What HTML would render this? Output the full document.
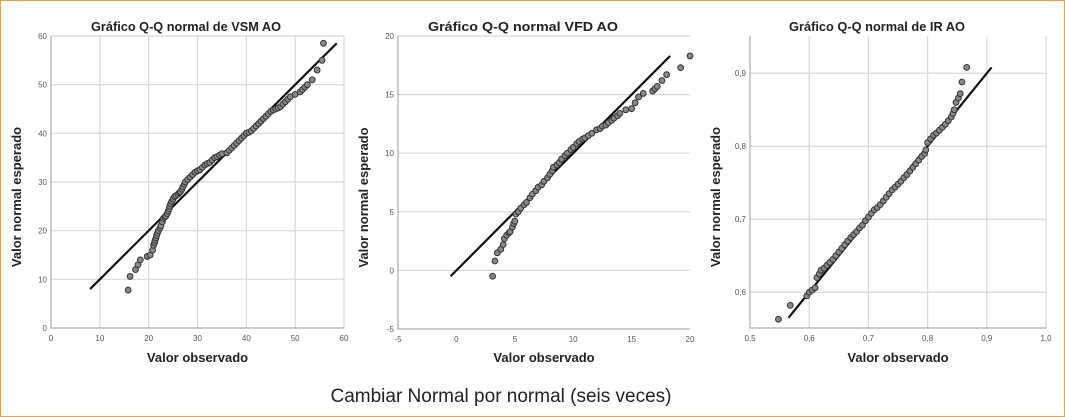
<!DOCTYPE html>
<html><head><meta charset="utf-8"><style>
html,body{margin:0;padding:0;background:#fff}
#wrap{position:relative;width:1065px;height:417px;box-sizing:border-box;border:1.5px solid #f0a030;background:#fff;overflow:hidden}
svg{position:absolute;left:0;top:0}
#cap{position:absolute;left:0;width:1000px;top:385px;text-align:center;font-family:"Liberation Sans Narrow","Liberation Sans",sans-serif;font-size:19px;color:#222}
</style></head><body>
<div id="wrap">
<svg id="svg" width="1065" height="417"></svg>
<div id="cap">Cambiar Normal por normal (seis veces)</div>
</div>
<script>
const obs1=[15.8,16.2,17.3,17.8,18.3,19.7,20.3,20.8,21,21.2,21.3,21.5,21.6,21.8,22,22.3,22.5,22.8,23,23.3,23.5,23.8,24,24.2,24.3,24.5,24.7,25,25.3,25.6,26,26.3,26.5,26.8,27,27.3,27.5,28,28.5,29,29.5,30,30.5,31,31.5,32,32.5,33,33.5,34,34.5,35,36,36.5,37,37.5,38,38.5,39,39.5,40,40.5,41,41.5,42,42.5,43,43.5,44,44.5,45,45.5,46,46.5,47,47.5,48,48.5,49,50,51,51.5,52,52.5,53.5,54.5,55.5,55.8];
const exp1=[7.8,10.6,12,13,14,14.7,15,16,17,17.5,18,18.5,19,19.5,20,20.5,21,21.8,22.5,22.8,23,23.5,24,24.5,25,25.5,26,26.5,27,27.2,27.5,27.8,28,28.5,29,29.5,30,30.5,31,31.5,32,32.3,32.5,33,33.5,33.8,34,34.5,35,35.2,35.5,35.8,36,36.5,37,37.5,38,38.5,39,39.5,40,40.2,40.5,41,41.5,42,42.5,43,43.5,44,44.5,44.8,45,45.2,45.5,46,46.5,47,47.5,48,48.5,49,49.5,50,51,53,55,58.5];
const line1=[8,58.5];
const xt1=[0,10,20,30,40,50,60], yt1=[0,10,20,30,40,50,60];
const obs2=[3.1,3.3,3.5,3.8,4,4.1,4.3,4.5,4.6,4.8,4.9,5,5.1,5.3,5.5,5.8,6,6.3,6.5,6.8,7,7.3,7.5,7.8,8,8.2,8.3,8.6,8.8,9,9.3,9.5,9.8,10,10.3,10.5,10.8,11,11.3,11.6,12,12.3,12.5,12.8,13,13.3,13.5,13.8,14,14.5,15,15.3,15.6,16,16.8,17,17.2,17.6,18,19.2,20];
const exp2=[-0.5,0.8,1.5,1.8,2.2,2.7,3,3.2,3.3,3.7,4,4.2,4.8,5,5.3,5.6,5.8,6.2,6.5,6.8,7.1,7.3,7.6,7.9,8.2,8.5,8.8,9,9.2,9.5,9.8,10,10.3,10.5,10.8,11,11.2,11.3,11.5,11.7,12,12.1,12.3,12.4,12.6,12.8,13,13.2,13.4,13.7,13.8,14.3,14.8,15.1,15.3,15.5,15.7,16.2,16.7,17.3,18.3];
const line2=[-0.5,18.3];
const xt2=[-5,0,5,10,15,20], yt2=[-5,0,5,10,15,20];
const obs3=[0.548,0.568,0.596,0.6,0.605,0.61,0.613,0.617,0.62,0.625,0.63,0.635,0.64,0.645,0.65,0.655,0.66,0.665,0.67,0.675,0.68,0.685,0.69,0.695,0.7,0.705,0.71,0.715,0.72,0.725,0.73,0.735,0.74,0.745,0.75,0.755,0.76,0.765,0.77,0.775,0.78,0.785,0.79,0.795,0.797,0.8,0.805,0.81,0.815,0.82,0.825,0.83,0.835,0.84,0.843,0.845,0.848,0.852,0.855,0.858,0.866];
const exp3=[0.563,0.582,0.595,0.6,0.603,0.606,0.62,0.625,0.63,0.633,0.637,0.641,0.645,0.65,0.655,0.66,0.665,0.67,0.675,0.679,0.683,0.688,0.692,0.698,0.703,0.708,0.713,0.716,0.72,0.725,0.73,0.735,0.74,0.744,0.748,0.752,0.757,0.761,0.766,0.771,0.776,0.781,0.786,0.79,0.795,0.805,0.81,0.815,0.818,0.822,0.826,0.83,0.835,0.84,0.845,0.85,0.86,0.866,0.872,0.888,0.908];
const line3=[0.565,0.908];
const xt3=[0.5,0.6,0.7,0.8,0.9,1.0], yt3=[0.6,0.7,0.8,0.9];
const NS='http://www.w3.org/2000/svg', svg=document.getElementById('svg');
function mk(t,a,p){const e=document.createElementNS(NS,t);for(const k in a)e.setAttribute(k,a[k]);(p||svg).appendChild(e);return e;}
function chart(o){
 const g=mk('g',{});
 
 
 const X=v=>o.x0+(v-o.xmin)/(o.xmax-o.xmin)*(o.x1-o.x0);
 const Y=v=>o.y0-(v-o.ymin)/(o.ymax-o.ymin)*(o.y0-o.y1);
 const fmt=v=>o.dec?v.toFixed(1).replace('.',','):String(v);
 if(o.vgrid) o.xt.forEach(v=>{if(v!==o.xmin){const l=mk('line',{x1:X(v),x2:X(v),y1:o.y1,y2:o.y0,stroke:'#d8d8d8','stroke-width':1.2},g);}});
 o.yt.forEach(v=>{if(Y(v)<o.y0-1){const l=mk('line',{x1:o.x0,x2:o.x1,y1:Y(v),y2:Y(v),stroke:'#d8d8d8','stroke-width':1.2},g);}});
 const ax=mk('path',{d:`M${o.x0},${o.y1}V${o.y0}H${o.x1}`,fill:'none',stroke:'#999','stroke-width':1},g);
 
 o.xt.forEach(v=>{const t=mk('text',{x:X(v),y:o.y0+13,'text-anchor':'middle','font-size':8,fill:'#555','font-family':'Liberation Sans,sans-serif'},g);t.textContent=fmt(v);});
 o.yt.forEach(v=>{const t=mk('text',{x:o.x0-4,y:Y(v)+3,'text-anchor':'end','font-size':8,fill:'#555','font-family':'Liberation Sans,sans-serif'},g);t.textContent=fmt(v);});
 const ln=mk('line',{x1:X(o.line[0]),y1:Y(o.line[0]),x2:X(o.line[1]),y2:Y(o.line[1]),stroke:'#111','stroke-width':2.2},g);
 
 o.xs.forEach((v,i)=>{const c=mk('circle',{cx:X(v),cy:Y(o.ys[i]),r:2.9,fill:'#888',stroke:'#333','stroke-width':1},g);});
 const ti=mk('text',{x:o.tx,y:30,'text-anchor':'middle','font-size':12.5,'font-weight':'bold',fill:'#222','font-family':'Liberation Sans,sans-serif',textLength:o.tw,lengthAdjust:'spacingAndGlyphs'},g);ti.textContent=o.title;
 const xl=mk('text',{x:(o.x0+o.x1)/2,y:361,'text-anchor':'middle','font-size':13,'font-weight':'bold',fill:'#222','font-family':'Liberation Sans,sans-serif'},g);xl.textContent='Valor observado';
 const yx=o.x0-30, yc=(o.y0+o.y1)/2+15;
 const yl=mk('text',{x:yx,y:yc,'text-anchor':'middle','font-size':13,'font-weight':'bold',fill:'#222','font-family':'Liberation Sans,sans-serif',transform:`rotate(-90 ${yx} ${yc})`},g);yl.textContent='Valor normal esperado';
}
chart({name:'qq-vsm',x0:50,x1:343,y0:327,y1:35,xmin:0,xmax:60,ymin:0,ymax:60,xt:xt1,yt:yt1,xs:obs1,ys:exp1,line:line1,vgrid:true,tx:185,tw:190,title:'Gráfico Q-Q normal de VSM AO'});
chart({name:'qq-vfd',x0:397,x1:689,y0:328,y1:35,xmin:-5,xmax:20,ymin:-5,ymax:20,xt:xt2,yt:yt2,xs:obs2,ys:exp2,line:line2,vgrid:false,tx:522,tw:190,title:'Gráfico Q-Q normal  VFD   AO'});
chart({name:'qq-ir',x0:749,x1:1045,y0:327,y1:35,xmin:0.5,xmax:1.0,ymin:0.551,ymax:0.951,xt:xt3,yt:yt3,xs:obs3,ys:exp3,line:line3,vgrid:true,dec:true,tx:876,tw:176,title:'Gráfico Q-Q normal de IR AO'});
</script>
</body></html>
